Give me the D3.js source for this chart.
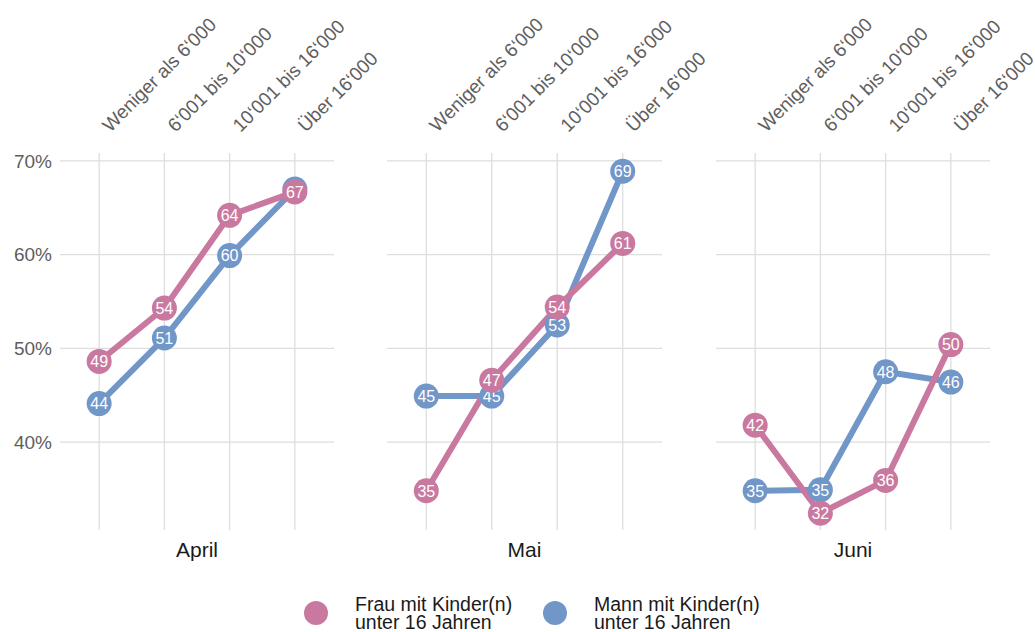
<!DOCTYPE html>
<html>
<head>
<meta charset="utf-8">
<script src="https://cdn.jsdelivr.net/npm/d3@7"></script>
<style>
  html, body { margin: 0; padding: 0; background: #fff; }
  svg { display: block; font-family: "Liberation Sans", Arial, Helvetica, sans-serif; }
</style>
</head>
<body>
<svg id="chart" width="1035" height="632"></svg>
<script>
const months = ["April", "Mai", "Juni"];
const categories = ["Weniger als 6‘000", "6‘001 bis 10‘000", "10‘001 bis 16‘000", "Über 16‘000"];
const seriesNames = ["Frau mit Kinder(n)\nunter 16 Jahren", "Mann mit Kinder(n)\nunter 16 Jahren"];
const seriesColors = ["#C9799F", "#7196C8"];
const yTicks = [40, 50, 60, 70];

// values per month, by category order
const frauApril = [48.6, 54.3, 64.2, 66.7];
const mannApril = [44.1, 51.1, 59.9, 67.0];
const frauMai   = [34.8, 46.6, 54.4, 61.2];
const mannMai   = [44.9, 44.9, 52.5, 68.9];
const frauJuni  = [41.8, 32.4, 35.9, 50.4];
const mannJuni  = [34.8, 34.9, 47.5, 46.4];

const frauValues = [frauApril, frauMai, frauJuni];
const mannValues = [mannApril, mannMai, mannJuni];

const svg = d3.select("#chart");

const panelRanges = [[60, 334], [387, 662], [716, 990]];
const yTop = 153, yBottom = 530;

const y = d3.scaleLinear().domain([30.61, 70.85]).range([yBottom, yTop]);

const grid = svg.append("g");
const lineLayer = svg.append("g");
const markLayerBlue = svg.append("g");
const markLayerPink = svg.append("g");

const line = (x) => d3.line().x((d, i) => x(categories[i])).y(d => y(d));

months.forEach((m, mi) => {
  const [x0, x1] = panelRanges[mi];
  const x = d3.scalePoint().domain(categories).range([x0, x1]).padding(0.6);

  // horizontal gridlines
  grid.selectAll(null).data(yTicks).enter().append("line")
    .attr("x1", x0).attr("x2", x1)
    .attr("y1", d => y(d)).attr("y2", d => y(d))
    .attr("stroke", "#dedede").attr("stroke-width", 1.3);
  // vertical gridlines
  grid.selectAll(null).data(categories).enter().append("line")
    .attr("x1", d => x(d)).attr("x2", d => x(d))
    .attr("y1", yTop).attr("y2", yBottom)
    .attr("stroke", "#dedede").attr("stroke-width", 1.3);

  // top category labels
  grid.selectAll(null).data(categories).enter().append("text")
    .attr("transform", d => `translate(${x(d) + 11},${133}) rotate(-45)`)
    .attr("text-anchor", "start")
    .attr("font-size", 19)
    .attr("fill", "#5e5e5e")
    .text(d => d);

  // facet label
  grid.append("text")
    .attr("x", (x0 + x1) / 2).attr("y", 557)
    .attr("text-anchor", "middle")
    .attr("font-size", 21)
    .attr("fill", "#1a1a1a")
    .text(m);

  const series = [
    { vals: mannValues[mi], color: seriesColors[1], layer: markLayerBlue },
    { vals: frauValues[mi], color: seriesColors[0], layer: markLayerPink }
  ];

  series.forEach(s => {
    lineLayer.append("path")
      .attr("d", line(x)(s.vals))
      .attr("fill", "none")
      .attr("stroke", s.color)
      .attr("stroke-width", 6)
      .attr("stroke-linejoin", "round");
  });
  series.forEach(s => {
    s.layer.selectAll(null).data(s.vals).enter().append("circle")
      .attr("cx", (d, i) => x(categories[i]))
      .attr("cy", d => y(d))
      .attr("r", 12.5)
      .attr("fill", s.color);
    s.layer.selectAll(null).data(s.vals).enter().append("text")
      .attr("x", (d, i) => x(categories[i]))
      .attr("y", d => y(d))
      .attr("dy", "0.36em")
      .attr("text-anchor", "middle")
      .attr("font-size", 16)
      .attr("fill", "#fff")
      .text(d => Math.round(d));
  });
});

// y axis labels
svg.append("g").selectAll("text").data(yTicks).enter().append("text")
  .attr("x", 52).attr("y", d => y(d))
  .attr("dy", "0.36em")
  .attr("text-anchor", "end")
  .attr("font-size", 19)
  .attr("fill", "#5e5e5e")
  .text(d => d + "%");

// legend
const legendX = [316, 555];
const legend = svg.append("g");
seriesNames.forEach((name, i) => {
  legend.append("circle")
    .attr("cx", legendX[i]).attr("cy", 613).attr("r", 12)
    .attr("fill", seriesColors[i]);
  name.split("\n").forEach((ln, j) => {
    legend.append("text")
      .attr("x", legendX[i] + 39).attr("y", 611 + j * 18)
      .attr("font-size", 19.5)
      .attr("fill", "#1a1a1a")
      .text(ln);
  });
});
</script>
</body>
</html>
